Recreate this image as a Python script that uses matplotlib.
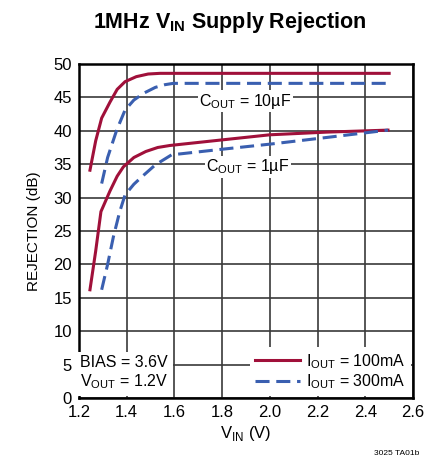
import numpy as np
import matplotlib.pyplot as plt

plt.rcParams['font.family'] = ['Liberation Sans Narrow', 'Liberation Sans', 'DejaVu Sans']
plt.rcParams['mathtext.fontset'] = 'custom'
plt.rcParams['mathtext.rm'] = 'Liberation Sans'

# 10uF curves
vin_10_100 = [1.246, 1.27, 1.295, 1.33, 1.36, 1.393, 1.44, 1.49, 1.54, 1.6, 2.0, 2.5]
rej_10_100 = [34.1, 38.5, 41.9, 44.3, 46.2, 47.35, 48.1, 48.5, 48.6, 48.6, 48.6, 48.6]
vin_10_300 = [1.295, 1.32, 1.358, 1.393, 1.43, 1.47, 1.52, 1.56, 1.595, 2.0, 2.5]
rej_10_300 = [32.1, 36.0, 40.1, 43.1, 44.6, 45.6, 46.5, 46.9, 47.1, 47.1, 47.1]

# 1uF curves
vin_1_100 = [1.246, 1.27, 1.292, 1.33, 1.36, 1.386, 1.43, 1.48, 1.53, 1.581, 1.79, 2.0, 2.238, 2.495]
rej_1_100 = [16.2, 22.0, 27.9, 31.0, 33.2, 34.6, 36.0, 36.9, 37.5, 37.8, 38.6, 39.4, 39.8, 40.1]
vin_1_300 = [1.295, 1.32, 1.344, 1.37, 1.393, 1.43, 1.463, 1.52, 1.588, 1.79, 2.0, 2.238, 2.495]
rej_1_300 = [16.2, 20.0, 24.1, 27.8, 30.4, 32.0, 33.1, 34.9, 36.4, 37.2, 38.0, 39.0, 40.1]

red = '#a0103a'
blue = '#3a5fb0'

fig = plt.figure(figsize=(4.3, 4.58), dpi=100)
ax = fig.add_axes([0.1837, 0.131, 0.7768, 0.7293])

ax.plot(vin_10_100, rej_10_100, color=red, lw=2.2, label='I$_{\\mathregular{OUT}}$ = 100mA')
ax.plot(vin_10_300, rej_10_300, color=blue, lw=2.2, dashes=(4.6, 2.2), label='I$_{\\mathregular{OUT}}$ = 300mA')
ax.plot(vin_1_100, rej_1_100, color=red, lw=2.2)
ax.plot(vin_1_300, rej_1_300, color=blue, lw=2.2, dashes=(4.6, 2.2))

ax.set_xlim(1.2, 2.6)
ax.set_ylim(0, 50)
ax.set_xticks(np.arange(1.2, 2.61, 0.2))
ax.set_xticklabels(['%.1f' % v for v in np.arange(1.2, 2.61, 0.2)])
ax.set_yticks(np.arange(0, 51, 5))
ax.tick_params(length=0, labelsize=12, pad=5)
ax.grid(color='#3a3a3a', lw=1.2)
for s in ax.spines.values():
    s.set_linewidth(1.8)

ax.set_xlabel('V$_{\\mathregular{IN}}$ (V)', fontsize=12, labelpad=3)
ax.set_ylabel('REJECTION (dB)', fontsize=11, labelpad=9)
fig.suptitle('1MHz V$_{\\mathregular{IN}}$ Supply Rejection', fontsize=15.5,
             fontweight='bold', x=0.535, y=0.978)

box = dict(facecolor='white', edgecolor='none', pad=1)
ax.text(1.896, 44.4, 'C$_{\\mathregular{OUT}}$ = 10µF', fontsize=11.5, ha='center', va='center', bbox=box)
ax.text(1.908, 34.6, 'C$_{\\mathregular{OUT}}$ = 1µF', fontsize=11.5, ha='center', va='center', bbox=box)

ax.text(1.205, 1.0, 'BIAS = 3.6V\nV$_{\\mathregular{OUT}}$ = 1.2V', fontsize=11.5, ha='left',
        va='bottom', linespacing=1.2,
        bbox=dict(facecolor='white', edgecolor='none', boxstyle='square,pad=0.3'))

leg = ax.legend(loc='lower right', fontsize=11.5, frameon=True, fancybox=False,
                handlelength=2.8, handletextpad=0.4, borderpad=0.3,
                labelspacing=0.1, borderaxespad=0.15)
leg.get_frame().set_edgecolor('none')
leg.get_frame().set_alpha(1)

fig.text(0.975, 0.003, '3025 TA01b', fontsize=6, ha='right', va='bottom')

fig.savefig('out.png', dpi=100)
